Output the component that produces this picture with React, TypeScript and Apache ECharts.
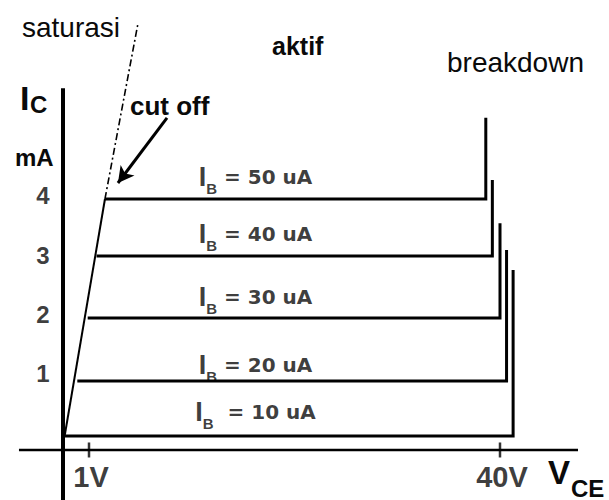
import React, { useEffect, useRef } from "react";
import * as echarts from "echarts";

// ---- data (V_CE in volts, I_C in mA; schematic scale) ----
const ibValues = [10, 20, 30, 40, 50]; // base current, uA
const icLevels = [0, 0.93, 1.99, 3.04, 4.0]; // flat collector current per curve
const kneeVce = [0.15, 1.31, 2.26, 3.07, 3.84]; // where each curve leaves the saturation line
const breakdownVce = [41.2, 40.6, 40.0, 39.3, 38.7]; // breakdown voltage per curve
const breakdownTop = [2.8, 3.14, 3.59, 4.32, 5.37]; // top of breakdown rise
const saturationSolid = [[0.15, 0], [3.84, 4.0]];
const saturationDashed = [[3.84, 4.0], [6.87, 6.97]];
const cutoffArrow = [[9.52, 5.37], [5.03, 4.27]];
const xTickValues = [2.38, 40];
const xTickLabels = ["1V", "40V"];
const yTickValues = [1, 2, 3, 4];
const yTickLabels = ["1", "2", "3", "4"];
const xAxisSpan = [-4.03, 47.14];
const yAxisSpan = [-1.08, 5.87];
const xAxisLevel = -0.236;

// ---- layout constants ----
const X_MIN = -5.7666;
const X_MAX = 49.977;
const Y_MIN = -1.0802;
const Y_MAX = 7.3586;
const LABEL_V = 17.62;
const Y_LABEL_V = -1.83;
const labelLift = [24, 16, 21, 22, 22];

const BOLD = '"Liberation Sans", Arial, sans-serif';
const INK = "#0a0a0a";

export default function App() {
  const ref = useRef<HTMLDivElement>(null);
  useEffect(() => {
    if (!ref.current) return;
    const chart = echarts.init(ref.current, undefined, { renderer: "svg" });

    const curveSeries = ibValues.map((ib, i) => ({
      type: "line",
      name: `IB ${ib} uA`,
      silent: true,
      symbol: "none",
      lineStyle: { color: "#000", width: 3, join: "miter" },
      data: [
        [kneeVce[i], icLevels[i]],
        [breakdownVce[i], icLevels[i]],
        [breakdownVce[i], breakdownTop[i]],
      ],
    }));

    const option: any = {
      animation: false,
      backgroundColor: "#fff",
      grid: { left: 0, right: 0, top: 0, bottom: 0, containLabel: false },
      xAxis: { type: "value", min: X_MIN, max: X_MAX, show: false },
      yAxis: { type: "value", min: Y_MIN, max: Y_MAX, show: false },
      series: [
        // axes
        {
          type: "line",
          silent: true,
          symbol: "none",
          lineStyle: { color: "#000", width: 4 },
          data: [[0, yAxisSpan[0]], [0, yAxisSpan[1]]],
        },
        {
          type: "line",
          silent: true,
          symbol: "none",
          lineStyle: { color: "#000", width: 2.5 },
          data: [[xAxisSpan[0], xAxisLevel], [xAxisSpan[1], xAxisLevel]],
        },
        // x ticks + labels
        {
          type: "scatter",
          silent: true,
          symbol: "rect",
          symbolSize: [2.5, 15],
          itemStyle: { color: "#000" },
          data: xTickValues.map((v, i) => ({ value: [v, xAxisLevel], name: xTickLabels[i] })),
          label: {
            show: true,
            position: "inside",
            offset: [2, 27],
            formatter: (p: any) => p.name,
            color: INK,
            fontFamily: BOLD,
            fontWeight: "bold",
            fontSize: 29,
          },
        },
        // y tick labels
        {
          type: "scatter",
          silent: true,
          symbolSize: 0,
          data: yTickValues.map((v, i) => ({ value: [Y_LABEL_V, v], name: yTickLabels[i] })),
          label: {
            show: true,
            position: "inside",
            offset: [0, -3],
            formatter: (p: any) => p.name,
            color: INK,
            fontFamily: BOLD,
            fontWeight: "bold",
            fontSize: 24,
          },
        },
        // saturation line
        {
          type: "line",
          silent: true,
          symbol: "none",
          lineStyle: { color: "#000", width: 2 },
          data: saturationSolid,
        },
        {
          type: "line",
          silent: true,
          symbol: "none",
          lineStyle: { color: "#000", width: 1.6, type: [7, 3, 2, 3] },
          data: saturationDashed,
        },
        // cut off arrow
        {
          type: "line",
          silent: true,
          symbol: "none",
          data: [],
          markLine: {
            silent: true,
            symbol: ["none", "arrow"],
            symbolSize: [13, 16],
            label: { show: false },
            lineStyle: { color: "#000", width: 3, type: "solid" },
            data: [[{ coord: cutoffArrow[0] }, { coord: cutoffArrow[1] }]],
          },
        },
        ...curveSeries,
        // I_B labels
        {
          type: "scatter",
          silent: true,
          symbolSize: 0,
          data: ibValues.map((ib, i) => ({
            value: [LABEL_V, icLevels[i]],
            name: String(ib),
            label: { offset: [0, -labelLift[i]] },
          })),
          label: {
            show: true,
            position: "inside",
            formatter: (p: any) =>
              `{i|I}{s|B}{t|${p.name === "10" ? "  " : " "}= ${p.name} uA}`,
            rich: {
              i: { fontFamily: BOLD, fontWeight: "bold", fontSize: 27, color: INK, lineHeight: 30, verticalAlign: "middle" },
              s: { fontFamily: BOLD, fontWeight: "bold", fontSize: 15, color: INK, lineHeight: 30, verticalAlign: "bottom", padding: [0, 0, -4, 0] },
              t: { fontFamily: '"DejaVu Sans", sans-serif', fontWeight: "bold", fontSize: 20, color: INK, lineHeight: 30, verticalAlign: "middle" },
            },
          },
        },
      ],
      graphic: [
        { type: "text", x: 22, y: 27, style: { text: "saturasi", font: '28px "Liberation Sans", Arial', fill: INK, verticalAlign: "middle" } },
        { type: "text", x: 272, y: 46, style: { text: "aktif", font: 'bold 25px "Liberation Sans", Arial', fill: INK, verticalAlign: "middle" } },
        { type: "text", x: 447, y: 62, style: { text: "breakdown", font: '28px "Liberation Sans", Arial', fill: INK, verticalAlign: "middle" } },
        { type: "text", x: 130, y: 106, style: { text: "cut off", font: 'bold 26px "Liberation Sans", Arial', fill: INK, verticalAlign: "middle" } },
        { type: "text", x: 20, y: 98, style: { text: "I", font: 'bold 34px "Liberation Sans", Arial', fill: INK, verticalAlign: "middle" } },
        { type: "text", x: 30, y: 104, style: { text: "C", font: 'bold 24px "Liberation Sans", Arial', fill: INK, verticalAlign: "middle" } },
        { type: "text", x: 15, y: 157, style: { text: "mA", font: 'bold 24px "Liberation Sans", Arial', fill: INK, verticalAlign: "middle" } },
        { type: "text", x: 548, y: 472, style: { text: "V", font: 'bold 33px "Liberation Sans", Arial', fill: INK, verticalAlign: "middle" } },
        { type: "text", x: 571, y: 488, style: { text: "CE", font: 'bold 24px "Liberation Sans", Arial', fill: INK, verticalAlign: "middle" } },
      ],
    };

    chart.setOption(option);
    return () => chart.dispose();
  }, []);

  return (
    <div
      ref={ref}
      style={{ position: "absolute", left: 0, top: 0, width: 609, height: 500, background: "#fff" }}
    />
  );
}
